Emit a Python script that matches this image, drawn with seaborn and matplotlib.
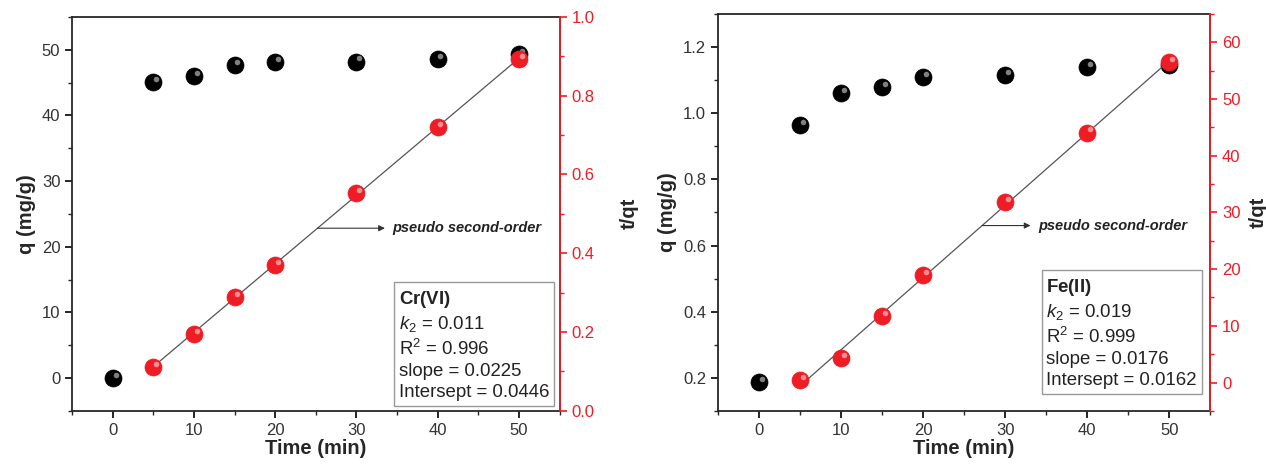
import numpy as np
import pandas as pd
import matplotlib
matplotlib.use("Agg")
import matplotlib.pyplot as plt
import matplotlib.transforms as mtransforms
from matplotlib.ticker import MultipleLocator
import seaborn as sns

# data
time = [0, 5, 10, 15, 20, 30, 40, 50]
time_fit = [5, 10, 15, 20, 30, 40, 50]

q_cr = [0.0, 45.1, 46.0, 47.6, 48.1, 48.2, 48.6, 49.3]
tq_cr = [0.112, 0.196, 0.289, 0.371, 0.553, 0.721, 0.892]

q_fe = [0.187, 0.964, 1.062, 1.079, 1.111, 1.117, 1.141, 1.147]
tq_fe = [0.41, 4.3, 11.8, 18.9, 31.8, 44.1, 56.5]

box_cr = ["Cr(VI)", "0.011", "0.996", "0.0225", "0.0446"]
box_fe = ["Fe(II)", "0.019", "0.999", "0.0176", "0.0162"]

sns.set_theme(style="ticks")
plt.rcParams['font.family'] = ['Liberation Sans', 'DejaVu Sans']
plt.rcParams['mathtext.fontset'] = 'custom'
plt.rcParams['mathtext.rm'] = 'Liberation Sans'
plt.rcParams['mathtext.it'] = 'Liberation Sans:italic'
plt.rcParams['mathtext.bf'] = 'Liberation Sans:bold'

RED = '#ee1c24'

fig = plt.figure(figsize=(12.66, 4.69), dpi=100)
ax1 = fig.add_axes([0.057, 0.124, 0.385, 0.840])
ax2 = fig.add_axes([0.567, 0.124, 0.389, 0.846])


def ball(ax, x, y, color):
    # shaded sphere: dark ball + small light highlight
    df = pd.DataFrame({"x": x, "y": y})
    sns.scatterplot(data=df, x="x", y="y", ax=ax, color=color, s=150,
                    edgecolor=color, linewidth=0.5, zorder=3, legend=False)
    off = mtransforms.offset_copy(ax.transData, fig=ax.figure, x=2.0, y=2.2, units='points')
    ax.scatter(x, y, s=16, color='white', alpha=0.5, transform=off, zorder=4, linewidths=0)


def panel(ax, q, tq, qlim, qmajor, qminor, tlim, tmajor, tminor, box, arrow_x, text_x,
          box_xy, tlabelpad):
    ball(ax, time, q, 'black')
    ax.set_xlim(-5, 55)
    ax.set_ylim(*qlim)
    ax.xaxis.set_major_locator(MultipleLocator(10))
    ax.xaxis.set_minor_locator(MultipleLocator(5))
    ax.yaxis.set_major_locator(MultipleLocator(qmajor))
    ax.yaxis.set_minor_locator(MultipleLocator(qminor))
    ax.tick_params(axis='both', which='major', direction='out', length=5, width=1.2,
                   labelsize=12, colors='black')
    ax.tick_params(axis='both', which='minor', direction='out', length=3, width=1.0)
    ax.tick_params(axis='x', labelcolor='#333333')
    ax.tick_params(axis='y', labelcolor='#333333')
    ax.set_xlabel("Time (min)", fontsize=14.5, fontweight='bold', labelpad=1)
    ax.set_ylabel("q (mg/g)", fontsize=14.5, fontweight='bold', labelpad=4)
    for s in ax.spines.values():
        s.set_linewidth(1.3)
        s.set_visible(True)

    tx = ax.twinx()
    # linear fit through the t/qt points
    k, b = np.polyfit(time_fit, tq, 1)
    xs = np.array([time_fit[0] + 0.5, time_fit[-1]])
    fit = pd.DataFrame({"x": xs, "y": k * xs + b})
    sns.lineplot(data=fit, x="x", y="y", ax=tx, color='#555555', linewidth=0.9, zorder=2)
    ball(tx, time_fit, tq, RED)
    tx.set_ylim(*tlim)
    tx.yaxis.set_major_locator(MultipleLocator(tmajor))
    tx.yaxis.set_minor_locator(MultipleLocator(tminor))
    tx.tick_params(axis='y', which='major', direction='out', length=5, width=1.2,
                   labelsize=12, colors=RED)
    tx.tick_params(axis='y', which='minor', direction='out', length=3, width=1.0, colors=RED)
    tx.spines['right'].set_color(RED)
    tx.spines['right'].set_linewidth(1.3)
    for s in ['left', 'top', 'bottom']:
        tx.spines[s].set_visible(False)
    tx.set_ylabel("t/qt", fontsize=14.5, fontweight='bold', labelpad=tlabelpad)
    tx.set_xlabel("")

    # arrow annotation
    ay = k * arrow_x + b
    tx.annotate("", xy=(text_x - 0.9, ay), xytext=(arrow_x, ay),
                arrowprops=dict(arrowstyle='-|>', color='#333333', lw=0.8,
                                mutation_scale=9, shrinkA=0, shrinkB=0))
    tx.text(text_x, ay, "pseudo second-order", fontsize=10.5, fontweight='bold',
            style='italic', va='center', ha='left', color='#222222')

    txt = (r"$\mathbf{" + box[0] + "}$\n" +
           r"$k_2$ = " + box[1] + "\n" +
           r"R$^2$ = " + box[2] + "\n" +
           "slope = " + box[3] + "\n" +
           "Intersept = " + box[4])
    ax.text(box_xy[0], box_xy[1], txt, transform=ax.transAxes, ha='right', va='bottom',
            multialignment='left', fontsize=13.4, linespacing=1.3, color='#222222',
            bbox=dict(boxstyle='square,pad=0.25', fc='white', ec='#999999', lw=1.0),
            zorder=6)
    return tx


panel(ax1, q_cr, tq_cr, (-5, 55), 10, 5, (0, 1.0), 0.2, 0.1, box_cr, 25.2, 34.4,
      (0.979, 0.025), 18)
panel(ax2, q_fe, tq_fe, (0.1, 1.3), 0.2, 0.1, (-5, 65), 10, 5, box_fe, 27.2, 34.0,
      (0.973, 0.055), 6)

fig.savefig("out.png", dpi=100)
